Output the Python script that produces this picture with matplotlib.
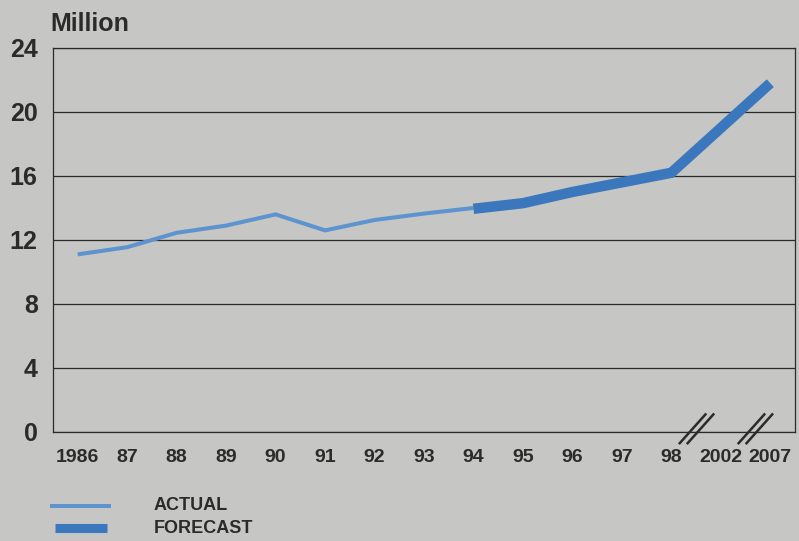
import matplotlib.pyplot as plt
from matplotlib.lines import Line2D

# data (million)
years = ["1986", "87", "88", "89", "90", "91", "92", "93", "94",
         "95", "96", "97", "98", "2002", "2007"]
actual = [11.1, 11.55, 12.45, 12.9, 13.6, 12.6, 13.25, 13.65, 14.0]
forecast = [13.95, 14.3, 15.0, 15.6, 16.2, 19.0, 21.8]
forecast_start = 8  # forecast begins at 1994

BG = "#c6c6c4"
INK = "#2b2b2b"
ACTUAL_COL = "#5d93cf"
FORECAST_COL = "#3b77bd"

plt.rcParams['font.family'] = ['Liberation Sans', 'DejaVu Sans']

fig = plt.figure(figsize=(7.99, 5.41), dpi=100, facecolor=BG)
ax = fig.add_axes([0.0663, 0.2015, 0.9287, 0.7098], facecolor=BG)

x_act = list(range(len(actual)))
x_fc = list(range(forecast_start, forecast_start + len(forecast)))

ax.plot(x_act, actual, color=ACTUAL_COL, lw=2.9, solid_capstyle='butt',
        solid_joinstyle='miter', zorder=3)
ax.plot(x_fc, forecast, color=FORECAST_COL, lw=7.5, solid_capstyle='butt',
        solid_joinstyle='miter', zorder=4)

ax.set_xlim(-0.5, 14.5)
ax.set_ylim(0, 24)
ax.set_yticks(range(0, 25, 4))
ax.set_xticks(range(len(years)))
ax.set_xticklabels(years)
ax.yaxis.grid(True, color=INK, lw=0.9)
ax.set_axisbelow(True)
ax.tick_params(axis='y', length=0, pad=11, labelsize=18, labelcolor=INK)
ax.tick_params(axis='x', length=0, pad=12, labelsize=14, labelcolor=INK)
for lab in ax.get_xticklabels() + ax.get_yticklabels():
    lab.set_fontweight('bold')
for s in ax.spines.values():
    s.set_color(INK)
    s.set_linewidth(0.9)

# axis break marks between 98/2002 and 2002/2007
for xb in (12.51, 13.7):
    for dx in (-0.08, 0.08):
        ax.plot([xb + dx - 0.26, xb + dx + 0.26], [-0.7, 1.1], color=INK,
                lw=1.8, clip_on=False, zorder=5)

fig.text(0.063, 0.943, "Million", fontsize=18, fontweight='bold', color=INK,
         ha='left', va='baseline')

# legend
fig.add_artist(Line2D([0.063, 0.139], [0.065, 0.065], color=ACTUAL_COL,
                      lw=2.9, solid_capstyle='butt'))
fig.add_artist(Line2D([0.069, 0.134], [0.024, 0.024], color=FORECAST_COL,
                      lw=6.5, solid_capstyle='butt'))
fig.text(0.192, 0.065, "ACTUAL", fontsize=13, fontweight='bold', color=INK,
         ha='left', va='center')
fig.text(0.192, 0.024, "FORECAST", fontsize=13, fontweight='bold', color=INK,
         ha='left', va='center')

fig.savefig("out.png", dpi=100, facecolor=BG)
